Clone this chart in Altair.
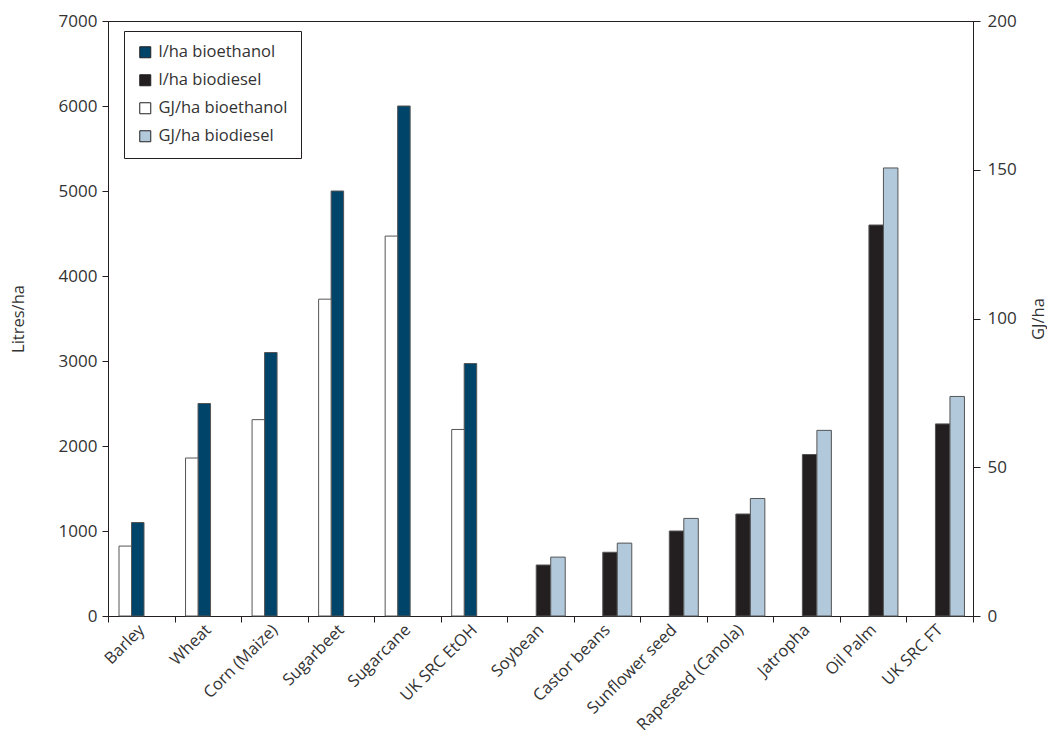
import altair as alt
import pandas as pd

crops = ["Barley", "Wheat", "Corn (Maize)", "Sugarbeet", "Sugarcane", "UK SRC EtOH",
         "Soybean", "Castor beans", "Sunflower seed", "Rapeseed (Canola)", "Jatropha",
         "Oil Palm", "UK SRC FT"]

eth_crops = ["Barley", "Wheat", "Corn (Maize)", "Sugarbeet", "Sugarcane", "UK SRC EtOH"]
eth_litres = [1100, 2500, 3100, 5000, 6000, 2970]
eth_gj = [23.5, 53.1, 66.0, 106.5, 127.7, 62.7]

dsl_crops = ["Soybean", "Castor beans", "Sunflower seed", "Rapeseed (Canola)", "Jatropha",
             "Oil Palm", "UK SRC FT"]
dsl_litres = [600, 750, 1000, 1200, 1900, 4600, 2260]
dsl_gj = [19.8, 24.5, 32.8, 39.5, 62.4, 150.6, 73.8]

series = ["l/ha bioethanol", "l/ha biodiesel", "GJ/ha bioethanol", "GJ/ha biodiesel"]
colors = ["#00446a", "#231f20", "#ffffff", "#b2c8db"]

litres_ticks = [0, 1000, 2000, 3000, 4000, 5000, 6000, 7000]
gj_ticks = [0, 50, 100, 150, 200]

FONT = "Open Sans"
TXT = "#333333"


def frame(names, vals, label):
    return pd.DataFrame({"crop": names, "value": vals, "series": [label] * len(names)})


ethL = frame(eth_crops, eth_litres, series[0])
dslL = frame(dsl_crops, dsl_litres, series[1])
ethG = frame(eth_crops, eth_gj, series[2])
dslG = frame(dsl_crops, dsl_gj, series[3])

x_enc = alt.X("crop:N", sort=crops, title=None,
              scale=alt.Scale(domain=crops, paddingInner=0, paddingOuter=0),
              axis=alt.Axis(labelAngle=315, labelAlign="right", labelBaseline="middle",
                            tickBand="extent", tickSize=6, labelPadding=5,
                            labelFontSize=16.5, labelColor=TXT, domainColor="#231f20",
                            tickColor="#231f20", grid=False, labelLimit=300))

color_enc = alt.Color("series:N",
                      scale=alt.Scale(domain=series, range=colors),
                      legend=alt.Legend(title=None, orient="none", legendX=16, legendY=10,
                                        symbolType="square", symbolSize=121,
                                        symbolStrokeColor="#231f20", symbolStrokeWidth=1,
                                        labelFontSize=16.5, labelColor=TXT, labelFont=FONT,
                                        rowPadding=11, padding=13, labelOffset=5,
                                        strokeColor="#231f20", fillColor="white",
                                        labelLimit=300))

left_axis = alt.Axis(values=litres_ticks, format="d", title="Litres/ha", grid=False,
                     tickSize=6, labelPadding=5, labelFontSize=17, labelColor=TXT,
                     titleFontSize=16.5, titleFontWeight="normal", titleColor=TXT,
                     titlePadding=32, domainColor="#231f20", tickColor="#231f20")
right_axis = alt.Axis(values=gj_ticks, format="d", title="GJ/ha", orient="right", grid=False,
                      tickSize=7, labelPadding=7, labelFontSize=17, labelColor=TXT,
                      titleFontSize=16.5, titleFontWeight="normal", titleColor=TXT,
                      titlePadding=30, titleAngle=270, domainColor="#231f20",
                      tickColor="#231f20")

eth_off = alt.Scale(domain=[series[2], series[0]], paddingInner=0, paddingOuter=0, range=[11, 36])
dsl_off = alt.Scale(domain=[series[1], series[3]], paddingInner=0, paddingOuter=0, range=[29, 58])


def bars(df, off_scale, y_scale, axis):
    return alt.Chart(df).mark_bar(stroke="#555555", strokeWidth=1).encode(
        x=x_enc,
        xOffset=alt.XOffset("series:N", scale=off_scale),
        y=alt.Y("value:Q", scale=y_scale, axis=axis),
        color=color_enc,
    )


yL = alt.Scale(domain=[0, 7000], nice=False)
yG = alt.Scale(domain=[0, 200], nice=False)

litres_layer = alt.layer(bars(ethL, eth_off, yL, left_axis),
                         bars(dslL, dsl_off, yL, left_axis)).resolve_scale(xOffset="independent")
gj_layer = alt.layer(bars(ethG, eth_off, yG, right_axis),
                     bars(dslG, dsl_off, yG, right_axis)).resolve_scale(xOffset="independent")

chart = alt.layer(litres_layer, gj_layer).resolve_scale(
    y="independent", xOffset="independent"
).properties(
    width=865, height=595,
    padding={"top": 4, "left": 2, "right": 0, "bottom": 0},
).configure(font=FONT).configure_view(stroke="#231f20", strokeWidth=1)

chart.save("out.html", embed_options={"renderer": "svg", "actions": False})
